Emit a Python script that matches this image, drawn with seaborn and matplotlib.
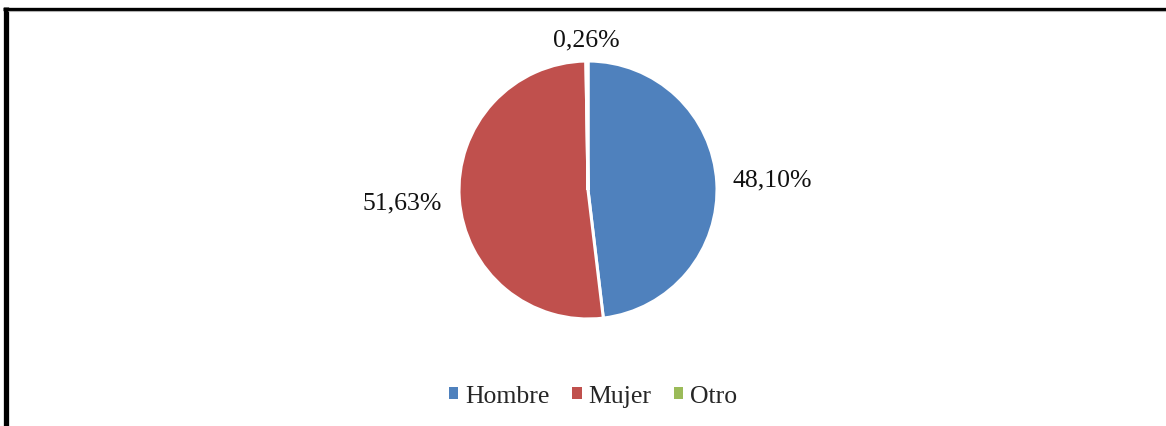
import matplotlib
matplotlib.use("Agg")
import matplotlib.pyplot as plt
import seaborn as sns
from matplotlib.lines import Line2D
from matplotlib.patches import Patch
import numpy as np

# data
categories = ["Hombre", "Mujer", "Otro"]
shares = [48.10, 51.63, 0.26]
share_labels = ["48,10%", "51,63%", "0,26%"]
colors = ["#4F81BD", "#C0504D", "#9BBB59"]

sns.set_theme(style="white")
plt.rcParams['font.family'] = ['Liberation Serif', 'DejaVu Serif']

W, H = 1166, 427
fig = plt.figure(figsize=(W / 100, H / 100), dpi=100)
fig.patch.set_facecolor("white")

# pie axes: centre (588, 191) px, radius 129 px
cx, cy, r = 588, 191, 129
ax = fig.add_axes([(cx - r) / W, (H - cy - r) / H, 2 * r / W, 2 * r / H])
wedges, _ = ax.pie(shares, colors=colors, startangle=90, counterclock=False,
                   radius=1.0, wedgeprops=dict(edgecolor="white", linewidth=2.2))
ax.set_xlim(-1, 1)
ax.set_ylim(-1, 1)
ax.set_aspect("equal")
ax.axis("off")

# data labels outside each wedge (Excel-like best fit)
label_dist = [1.43, 1.44, 1.17]
for w, txt, d in zip(wedges, share_labels, label_dist):
    ang = np.deg2rad((w.theta1 + w.theta2) / 2)
    ax.text(d * np.cos(ang), d * np.sin(ang), txt, ha="center", va="center",
            fontsize=18.5, color="#111111", clip_on=False)

handles = [Patch(facecolor=c, edgecolor="none") for c in colors]
fig.legend(handles, categories, loc="center", bbox_to_anchor=(593 / W, 1 - 397 / H),
           ncol=3, frameon=False, fontsize=18.5, handlelength=0.36, handleheight=0.36,
           handletextpad=0.25, columnspacing=0.9)

# frame of the chart area (left and top edges visible)
fig.add_artist(Line2D([5.5 / W, 5.5 / W], [0, 1 - 8 / H], transform=fig.transFigure,
                      color="black", linewidth=3.8, solid_capstyle="butt"))
fig.add_artist(Line2D([3 / W, 1], [1 - 9.5 / H, 1 - 9.5 / H], transform=fig.transFigure,
                      color="black", linewidth=2.4, solid_capstyle="butt"))
fig.add_artist(Line2D([8 / W, 1], [1 - 11.5 / H, 1 - 11.5 / H], transform=fig.transFigure,
                      color="#b0b0b0", linewidth=0.8, solid_capstyle="butt"))

fig.savefig("out.png", dpi=100)
